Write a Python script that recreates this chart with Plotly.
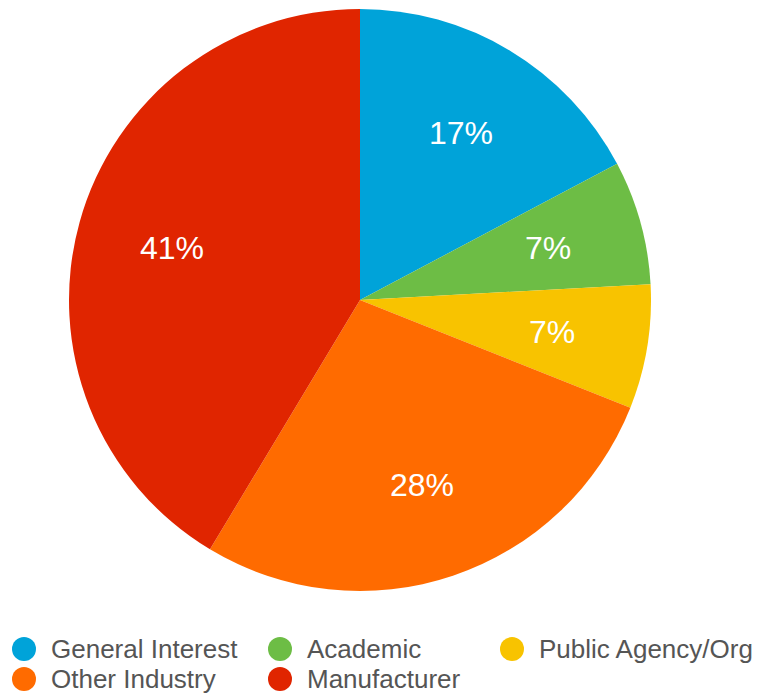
import numpy as np
import plotly.graph_objects as go

categories = ["General Interest", "Academic", "Public Agency/Org", "Other Industry", "Manufacturer"]
values = [5, 2, 2, 8, 12]
colors = ["#00a3d9", "#6dbd45", "#f8c300", "#ff6b00", "#e02500"]

W, H = 760, 694
FONT = "Liberation Sans, Arial, Helvetica, sans-serif"
CX, CY, R = 360, 300, 291  # pie centre / radius in pixels

fig = go.Figure()
fig.add_trace(go.Pie(
    labels=categories, values=values, sort=False, direction="clockwise", rotation=0,
    marker=dict(colors=colors, line=dict(width=0)),
    textinfo="none",
    showlegend=False, hoverinfo="label+percent",
    domain=dict(x=[(CX-R)/W, (CX+R)/W], y=[(H-CY-R)/H, (H-CY+R)/H]),
))

annotations, shapes = [], []

# percentage labels at mid-angle of each slice, ~0.67 of the radius
vals = np.array(values, dtype=float)
frac = vals / vals.sum()
mid = (np.cumsum(frac) - frac / 2) * 2 * np.pi
for f, a in zip(frac, mid):
    px = CX + 0.67 * R * np.sin(a)
    py = CY - 0.67 * R * np.cos(a)
    annotations.append(dict(text=f"{f*100:.0f}%", xref="paper", yref="paper",
                            x=px/W, y=(H-py)/H, xanchor="center", yanchor="middle",
                            showarrow=False,
                            font=dict(size=32, color="white", family=FONT)))

# custom legend (circle markers + labels) laid out in a 3-column grid
col_x = [12, 268, 500]
row_y = [649, 679]
for i, (c, col) in enumerate(zip(categories, colors)):
    cx = col_x[i % 3]
    cy = row_y[i // 3]
    shapes.append(dict(type="circle", xref="paper", yref="paper",
                       x0=cx/W, x1=(cx+24)/W, y0=(H-cy-12)/H, y1=(H-cy+12)/H,
                       fillcolor=col, line=dict(width=0)))
    annotations.append(dict(text=c, xref="paper", yref="paper",
                            x=(cx+37)/W, y=(H-cy)/H, xanchor="left", yanchor="middle",
                            showarrow=False,
                            font=dict(size=26, color="#555555", family=FONT)))

fig.update_layout(
    width=W, height=H, margin=dict(l=0, r=0, t=0, b=0, autoexpand=False),
    paper_bgcolor="white", plot_bgcolor="white",
    showlegend=False, shapes=shapes, annotations=annotations,
)
fig.write_html("out.html")
